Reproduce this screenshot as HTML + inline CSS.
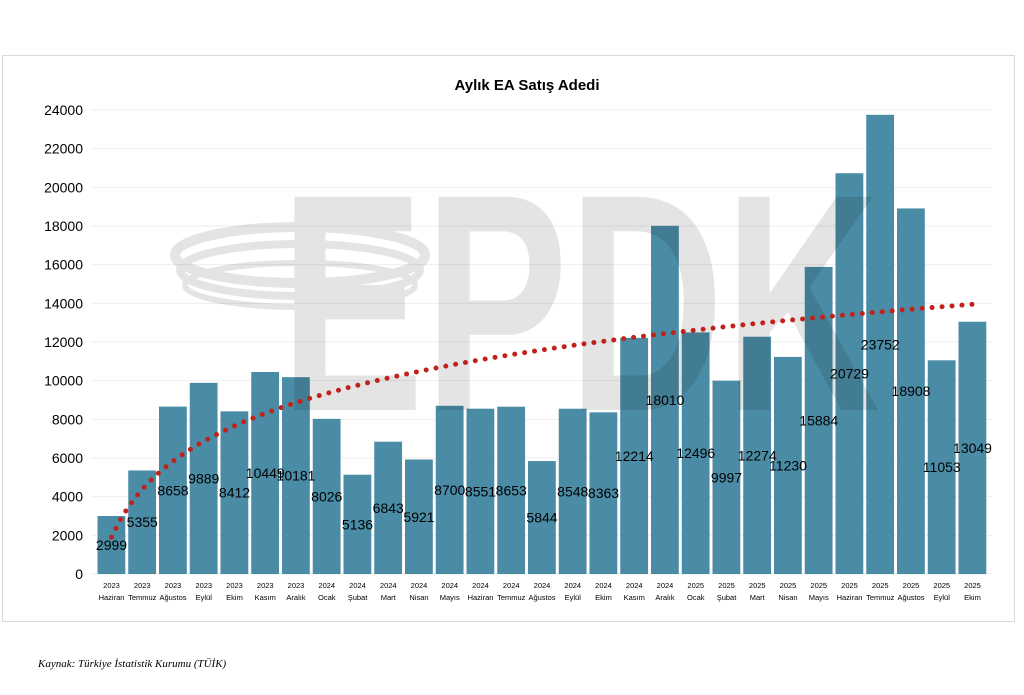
<!DOCTYPE html><html><head><meta charset="utf-8"><style>body{margin:0;background:#fff;width:1024px;height:690px;overflow:hidden;font-family:"Liberation Sans",sans-serif}</style></head><body>
<svg width="1024" height="690" xmlns="http://www.w3.org/2000/svg" font-family="Liberation Sans, sans-serif">
<rect x="2.5" y="55.5" width="1012" height="566" fill="#fff" stroke="#d9d9d9"/>
<text x="527" y="90" text-anchor="middle" font-size="15" font-weight="bold">Aylık EA Satış Adedi</text>
<g id="grid" stroke="#eeeeee"></g>
<g id="bars"></g>
<g opacity="0.1">
<text x="280" y="410" font-size="310" font-weight="bold" fill="#000" textLength="600" lengthAdjust="spacingAndGlyphs">EPDK</text>
<ellipse cx="300" cy="255" rx="125" ry="28" fill="none" stroke="#000" stroke-width="10"/>
<ellipse cx="300" cy="270" rx="120" ry="26" fill="none" stroke="#000" stroke-width="8"/>
<ellipse cx="300" cy="285" rx="115" ry="22" fill="none" stroke="#000" stroke-width="6"/>
</g>
<g id="ylab" font-size="14" text-anchor="end"></g>
<g id="xl" font-size="7.5" text-anchor="middle"></g>
<path id="trend" fill="none" stroke="#c0221b" stroke-width="5" stroke-linecap="round" stroke-dasharray="0 10"/>
<g id="vl" font-size="14" text-anchor="middle"></g>
<text x="38" y="667" font-size="11" font-style="italic" font-family="Liberation Serif, serif">Kaynak: Türkiye İstatistik Kurumu (TÜİK)</text>
</svg>
<script>
var v=[2999,5355,8658,9889,8412,10449,10181,8026,5136,6843,5921,8700,8551,8653,5844,8548,8363,12214,18010,12496,9997,12274,11230,15884,20729,23752,18908,11053,13049];
var m=["Haziran","Temmuz","Ağustos","Eylül","Ekim","Kasım","Aralık","Ocak","Şubat","Mart","Nisan","Mayıs","Haziran","Temmuz","Ağustos","Eylül","Ekim","Kasım","Aralık","Ocak","Şubat","Mart","Nisan","Mayıs","Haziran","Temmuz","Ağustos","Eylül","Ekim"];
var ns="http://www.w3.org/2000/svg";function el(p,t,a,tx){var e=document.createElementNS(ns,t);for(var k in a)e.setAttribute(k,a[k]);if(tx!=null)e.textContent=tx;document.getElementById(p).appendChild(e);}
var y0=574,s=464/24000;
for(var g=0;g<=24000;g+=2000){var y=y0-g*s;el("grid","line",{x1:92,x2:992,y1:y,y2:y});el("ylab","text",{x:83,y:y+5},g);}
for(var i=0;i<29;i++){var x=97.5+i*30.75,h=v[i]*s;el("bars","rect",{x:x,y:y0-h,width:27.8,height:h,fill:"#4a8ba5"});
var yr=i<7?2023:(i<19?2024:2025);el("xl","text",{x:x+14,y:588},yr);el("xl","text",{x:x+14,y:600},m[i]);
el("vl","text",{x:x+14,y:y0-h/2+5},v[i]);}
var d="";for(var t=1;t<=29;t+=0.25){var x=111.5+(t-1)*30.75,val=1900+3578*Math.log(t);d+=(t==1?"M":"L")+x+","+(y0-val*s);}
document.getElementById("trend").setAttribute("d",d);
</script></body></html>
